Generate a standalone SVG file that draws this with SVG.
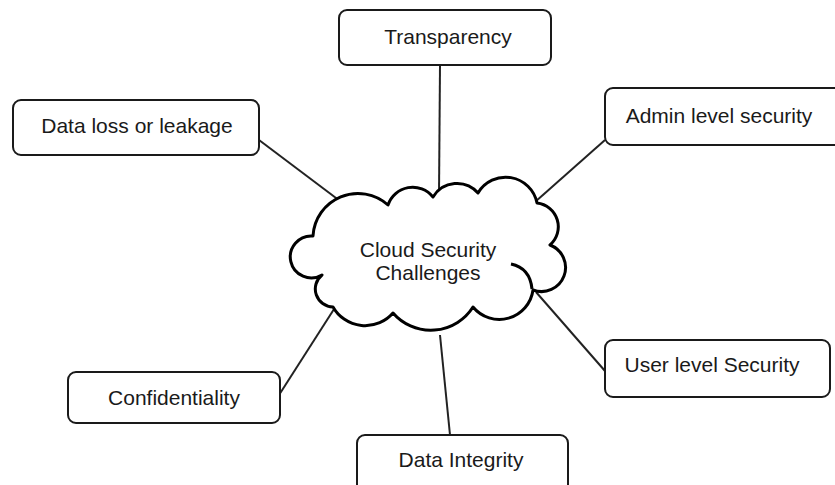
<svg xmlns="http://www.w3.org/2000/svg" width="835" height="485" viewBox="0 0 835 485">
<style>
.box{fill:#fff;stroke:#1a1a1a;stroke-width:2}
.lbl{font-family:"Liberation Sans",Arial,sans-serif;font-size:21px;fill:#1a1a1a;text-anchor:middle}
.conn{stroke:#222;stroke-width:2;fill:none}
.cloud{fill:#fff;stroke:#000;stroke-width:3;stroke-linejoin:round}
</style>
<rect width="835" height="485" fill="#fff"/>
<g id="connectors">
<line class="conn" x1="440" y1="65" x2="439" y2="195"/>
<line class="conn" x1="259" y1="140" x2="340" y2="201"/>
<line class="conn" x1="605" y1="140" x2="535" y2="202"/>
<line class="conn" x1="536" y1="292" x2="605" y2="371"/>
<line class="conn" x1="336" y1="306" x2="279" y2="395"/>
<line class="conn" x1="440" y1="335" x2="450" y2="435"/>
</g>
<g id="cloud">
<path class="cloud" d="M322,275 A21,21 0 1 1 313,236 A45,45 0 0 1 388,205 A26,26 0 0 1 433,197 A28,28 0 0 1 478,193 A32,32 0 0 1 537,203 A24,24 0 0 1 550,245 A24,24 0 0 1 533,290 A34,34 0 0 1 473,307 A50,50 0 0 1 393,313 A37,37 0 0 1 333,307 A18,18 0 0 1 322,275 Z"/>
<path d="M511,264 Q530,268 532,289" fill="none" stroke="#000" stroke-width="3"/>
<text class="lbl" x="428" y="257">Cloud Security</text>
<text class="lbl" x="428" y="280">Challenges</text>
</g>
<g id="transparency">
<rect class="box" x="339" y="10" width="212" height="55" rx="8"/>
<text class="lbl" x="448" y="44">Transparency</text>
</g>
<g id="data-loss">
<rect class="box" x="13" y="100" width="246" height="55" rx="8"/>
<text class="lbl" x="137" y="133">Data loss or leakage</text>
</g>
<g id="admin">
<rect class="box" x="605" y="88" width="240" height="57" rx="8"/>
<text class="lbl" x="719" y="123">Admin level security</text>
</g>
<g id="confidentiality">
<rect class="box" x="68" y="372" width="212" height="51" rx="8"/>
<text class="lbl" x="174" y="405">Confidentiality</text>
</g>
<g id="data-integrity">
<rect class="box" x="357" y="435" width="211" height="60" rx="8"/>
<text class="lbl" x="461" y="467">Data Integrity</text>
</g>
<g id="user-level">
<rect class="box" x="605" y="340" width="225" height="57" rx="8"/>
<text class="lbl" x="712" y="372">User level Security</text>
</g>
</svg>
